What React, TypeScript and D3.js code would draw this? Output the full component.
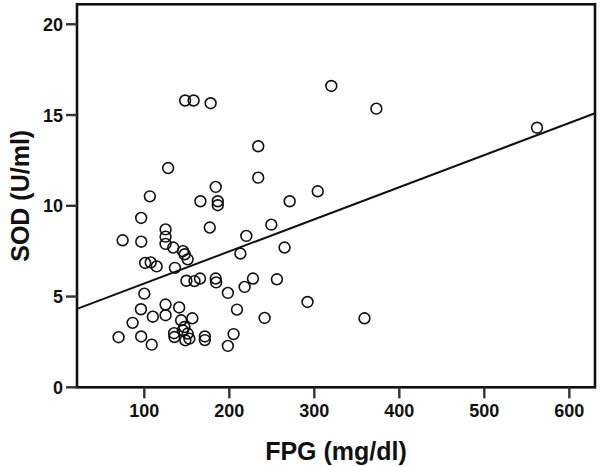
import React from "react";
import * as d3 from "d3";

const fpg: number[] = [
  320, 373, 562, 304, 271, 265, 292, 359, 148, 158, 178, 234, 234, 128, 106.5, 184, 166, 186.4, 186.4, 96.3,
  177, 125, 125, 125, 74.5, 96.4, 134, 145.5, 147.5, 151, 101, 107.5, 114.5, 136, 149.5, 159, 165.5, 184, 184.5, 213,
  249.4, 220, 218, 227.8, 256, 100, 198.3, 96, 125, 141, 110, 125, 86.2, 143.3, 156.5, 209, 241.5, 205, 69.7, 96.3,
  108.7, 135, 135.4, 145.3, 147.2, 151, 148.3, 153, 171.2, 171.2, 198.3,
];
const sod: number[] = [
  16.6, 15.35, 14.3, 10.8, 10.25, 7.7, 4.7, 3.8, 15.8, 15.8, 15.65, 13.28, 11.55, 12.08, 10.52, 11.04, 10.25, 10.25, 10.03, 9.33,
  8.8, 8.7, 8.3, 7.9, 8.1, 8.02, 7.7, 7.5, 7.33, 7.05, 6.85, 6.88, 6.66, 6.58, 5.87, 5.85, 5.99, 5.99, 5.78, 7.37,
  8.96, 8.34, 5.53, 5.99, 5.95, 5.16, 5.2, 4.3, 4.56, 4.4, 3.89, 3.97, 3.55, 3.69, 3.8, 4.28, 3.82, 2.93, 2.76, 2.8,
  2.35, 2.98, 2.77, 3.14, 3.32, 2.96, 2.59, 2.68, 2.8, 2.6, 2.28,
];
const xTicks: number[] = [100, 200, 300, 400, 500, 600];
const yTicks: number[] = [0, 5, 10, 15, 20];
const fitIntercept = 3.95;
const fitSlope = 0.01769;
const xDomain: [number, number] = [20.8, 630.2];
const yDomain: [number, number] = [0, 21.1];

export default function App() {
  const W = 600, H = 467;
  const left = 77, right = 595, top = 4.3, bottom = 387.3;
  const x = d3.scaleLinear().domain(xDomain).range([left, right]);
  const y = d3.scaleLinear().domain(yDomain).range([bottom, top]);
  const font = "'Liberation Sans', Arial, sans-serif";
  const lineGen = d3.line<number>().x((d) => x(d)).y((d) => y(fitIntercept + fitSlope * d));
  return (
    <svg width={W} height={H} style={{ position: "absolute", left: 0, top: 0, background: "#fff" }}>
      <rect x={0} y={0} width={W} height={H} fill="#fff" />
      <path d={lineGen(xDomain) || ""} stroke="#111" strokeWidth={2} fill="none" />
      {fpg.map((v, i) => (
        <circle key={i} cx={x(v)} cy={y(sod[i])} r={5.4} fill="none" stroke="#111" strokeWidth={1.6} />
      ))}
      <rect x={left} y={top} width={right - left} height={bottom - top} fill="none" stroke="#111" strokeWidth={2.6} />
      {yTicks.map((t) => (
        <g key={"y" + t}>
          <line x1={left - 11} x2={left} y1={y(t)} y2={y(t)} stroke="#333" strokeWidth={2.4} />
          <text x={left - 14} y={y(t)} dy="0.36em" textAnchor="end" fontFamily={font} fontWeight="bold" fontSize={18} fill="#111">
            {t}
          </text>
        </g>
      ))}
      {xTicks.map((t) => (
        <g key={"x" + t}>
          <line x1={x(t)} x2={x(t)} y1={bottom} y2={bottom + 11} stroke="#333" strokeWidth={2.4} />
          <text x={x(t)} y={417} textAnchor="middle" fontFamily={font} fontWeight="bold" fontSize={18} fill="#111">
            {t}
          </text>
        </g>
      ))}
      <text x={(left + right) / 2} y={460} textAnchor="middle" fontFamily={font} fontWeight="bold" fontSize={25} fill="#111">
        FPG (mg/dl)
      </text>
      <text
        transform={`translate(29, ${(top + bottom) / 2}) rotate(-90)`}
        textAnchor="middle"
        fontFamily={font}
        fontWeight="bold"
        fontSize={25}
        fill="#111"
      >
        SOD (U/ml)
      </text>
    </svg>
  );
}
